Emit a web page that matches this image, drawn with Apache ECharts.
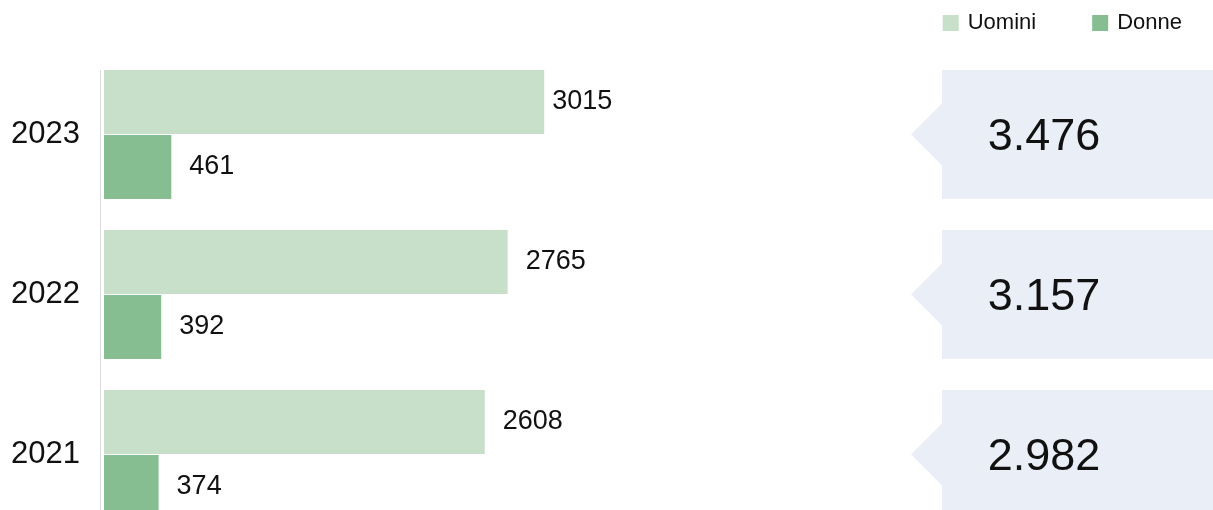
<!DOCTYPE html>
<html>
<head>
<meta charset="utf-8">
<script src="https://cdn.jsdelivr.net/npm/echarts@6/dist/echarts.min.js"></script>
<style>
html,body{margin:0;padding:0;background:#fff;overflow:hidden;}
#c{width:1213px;height:535px;}
</style>
</head>
<body>
<div id="c"></div>
<script>
const categories = ['2023', '2022', '2021'];
const uomini = [3015, 2765, 2608];
const donne = [461, 392, 374];
const totals = uomini.map((v, i) => v + donne[i]);

const FONT = '"Liberation Sans", Arial, sans-serif';
const fmtIt = v => String(v).replace(/\B(?=(\d{3})+(?!\d))/g, '.');

const chart = echarts.init(document.getElementById('c'));
const GRID_TOP = 54.5, GRID_BOTTOM = 0.5;
const labelStyle = { show: true, position: 'right', distance: 18, fontSize: 27, color: '#111', fontFamily: FONT, padding: [2, 0, 0, 0] };
const option = {
  animation: false,
  textStyle: { fontFamily: FONT },
  legend: {
    right: 26, top: 7,
    itemWidth: 16, itemHeight: 16, itemGap: 56,
    icon: 'rect',
    textStyle: { fontSize: 22, color: '#111', fontFamily: FONT, padding: [0, 0, 0, 4] },
    data: ['Uomini', 'Donne']
  },
  grid: [
    { left: 104, top: GRID_TOP, width: 730, bottom: GRID_BOTTOM },
    { left: 911, top: GRID_TOP, right: 0, bottom: GRID_BOTTOM }
  ],
  xAxis: [
    { gridIndex: 0, type: 'value', min: 0, max: 5000, show: false },
    { gridIndex: 1, type: 'value', min: 0, max: 1, show: false }
  ],
  yAxis: [
    {
      gridIndex: 0, type: 'category', data: categories, inverse: true, offset: 4,
      axisLine: { show: false }, axisTick: { show: false },
      axisLabel: { margin: 20, fontSize: 31, color: '#111', fontFamily: FONT, padding: [4, 0, 0, 0] }
    },
    { gridIndex: 1, type: 'category', data: categories, inverse: true, show: false }
  ],
  series: [
    {
      name: 'Uomini', type: 'bar', xAxisIndex: 0, yAxisIndex: 0,
      data: uomini.map((v, i) => i === 0 ? { value: v, label: { distance: 8 } } : v),
      barWidth: 64, barGap: '1.6%',
      itemStyle: { color: '#c8e0c9' },
      label: labelStyle
    },
    {
      name: 'Donne', type: 'bar', xAxisIndex: 0, yAxisIndex: 0,
      data: donne, barWidth: 64, barGap: '1.6%',
      itemStyle: { color: '#86be91' },
      label: labelStyle
    },
    {
      name: 'Totale', type: 'custom', xAxisIndex: 1, yAxisIndex: 1,
      data: totals.map((v, i) => [i, v]),
      encode: { y: 0 },
      renderItem: function (params, api) {
        const idx = api.value(0);
        const cy = api.coord([0, idx])[1];
        const band = api.size([0, 1])[1];
        const h = band * 129 / 160;
        const cs = params.coordSys;
        const x0 = cs.x, x1 = cs.x + cs.width;
        const t = 31, bx = x0 + t;
        return {
          type: 'group',
          children: [
            {
              type: 'polygon',
              shape: { points: [[x0, cy], [bx, cy - t], [bx, cy - h / 2], [x1, cy - h / 2], [x1, cy + h / 2], [bx, cy + h / 2], [bx, cy + t]] },
              style: { fill: '#eaeef7' }
            },
            {
              type: 'text',
              style: {
                text: fmtIt(api.value(1)), x: bx + 102, y: cy + 3,
                align: 'center', verticalAlign: 'middle',
                fontSize: 45, fill: '#111', fontFamily: FONT
              }
            }
          ]
        };
      }
    }
  ]
};
chart.setOption(option);

const topY = chart.convertToPixel({ yAxisIndex: 0 }, categories[0]) - 64.5;
chart.setOption({
  graphic: [{
    type: 'line', silent: true,
    shape: { x1: 100.5, y1: topY, x2: 100.5, y2: 535 },
    style: { stroke: '#dcdcdc', lineWidth: 1 }
  }]
});
</script>
</body>
</html>
